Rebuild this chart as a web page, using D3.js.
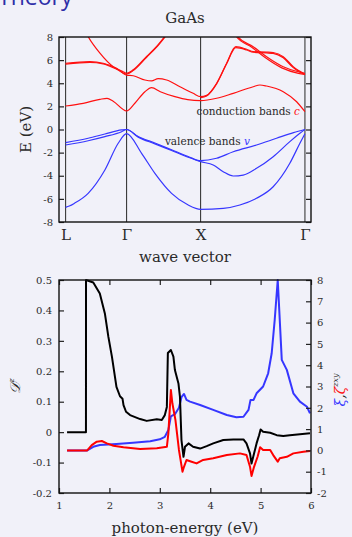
<!DOCTYPE html>
<html>
<head>
<meta charset="utf-8">
<script src="https://cdn.jsdelivr.net/npm/d3@7"></script>
<style>
html,body{margin:0;padding:0;background:#f1f1f9;}
svg{display:block;}
</style>
</head>
<body>
<svg id="chart" width="352" height="537"></svg>
<script>
// ---------- DATA: band structure (k along path, E in eV) ----------
const kTickValues = [0, 0.824, 1.824, 3.234];
const kTickLabels = ["L", "Γ", "X", "Γ"];
const energyTicks = [-8, -6, -4, -2, 0, 2, 4, 6, 8];

const valenceBand1 = [[0,-1.14],[0.305,-0.76],[0.531,-0.39],[0.757,-0.04],[0.824,0],[0.981,-0.6],[1.207,-1.17],[1.432,-1.75],[1.657,-2.33],[1.824,-2.7],[2.04,-2.49],[2.265,-1.92],[2.58,-1.34],[2.85,-0.76],[3.08,-0.27],[3.234,0]];
const valenceBand2 = [[0,-1.34],[0.305,-0.97],[0.531,-0.62],[0.757,-0.19],[0.824,0],[0.981,-0.66],[1.207,-1.24],[1.432,-1.82],[1.657,-2.4],[1.824,-2.78],[1.995,-3.07],[2.13,-3.65],[2.265,-4.02],[2.4,-3.94],[2.58,-3.36],[2.805,-2.35],[3.03,-1.05],[3.166,-0.33],[3.234,0]];
const valenceBand3 = [[0,-6.73],[0.05,-6.62],[0.12,-6.38],[0.305,-5.52],[0.531,-3.5],[0.711,-1.19],[0.824,-0.36],[1.027,-2.06],[1.207,-3.79],[1.432,-5.52],[1.657,-6.53],[1.824,-6.9],[2.13,-6.82],[2.355,-6.53],[2.58,-5.95],[2.805,-4.95],[3.03,-2.92],[3.166,-1.19],[3.234,-0.36]];

const conductionBand1 = [[0,2.03],[0.238,2.26],[0.464,2.61],[0.56,2.7],[0.643,2.45],[0.824,1.6],[0.936,2.27],[1.072,3.27],[1.162,3.62],[1.28,3.27],[1.477,2.84],[1.65,2.58],[1.824,2.5],[2.041,2.7],[2.265,3.13],[2.535,3.7],[2.626,3.85],[2.716,3.76],[2.941,3.27],[3.122,2.4],[3.234,1.54]];
const conductionBand2 = [[0,5.73],[0.328,5.87],[0.508,5.73],[0.689,5.29],[0.824,4.7],[0.914,4.65],[1.072,4.28],[1.162,4.2],[1.251,4.4],[1.365,4.28],[1.545,3.7],[1.724,3.13],[1.824,2.84],[1.905,2.95],[2.041,4.0],[2.176,5.73],[2.3,7.16],[2.446,6.94],[2.535,6.73],[2.716,6.7],[2.805,6.66],[2.941,6.3],[3.076,5.43],[3.234,4.8]];
const conductionBand3 = [[0,5.65],[0.328,5.8],[0.508,5.67],[0.689,5.22],[0.824,4.8],[0.914,5.1],[1.095,6.25],[1.23,7.12],[1.38,8.3]];
const conductionBand4 = [[0.29,8.2],[0.305,8.03],[0.464,6.6],[0.643,5.43],[0.778,5.0],[0.824,4.86],[0.914,5.16],[1.095,6.32],[1.23,7.18],[1.37,8.3]];
const conductionBand5 = [[2.31,8.2],[2.332,8.0],[2.535,7.16],[2.716,6.3],[2.941,5.43],[3.166,4.95],[3.234,4.86]];
const conductionBand6 = [[2.29,8.2],[2.312,8.0],[2.515,7.12],[2.696,6.22],[2.921,5.33],[3.146,4.86],[3.234,4.76]];
const conductionBand7 = [[1.824,2.76],[1.905,2.9],[2.041,3.95],[2.176,5.68],[2.3,7.08],[2.446,6.88],[2.535,6.68],[2.716,6.62],[2.805,6.58],[2.941,6.2],[3.076,5.35],[3.234,4.74]];

// ---------- DATA: optical response vs photon energy ----------
const photonTicks = [1, 2, 3, 4, 5, 6];
const dzTicks = [-0.2, -0.1, 0, 0.1, 0.2, 0.3, 0.4, 0.5];
const xiTicks = [-2, -1, 0, 1, 2, 3, 4, 5, 6, 7, 8];

const dzEnergy = [1.16,1.535,1.536,1.68,1.81,1.91,1.98,2.05,2.14,2.21,2.26,2.28,2.33,2.41,2.61,2.74,2.94,3.04,3.10,3.14,3.16,3.22,3.27,3.30,3.37,3.40,3.43,3.47,3.50,3.57,3.66,3.80,3.93,4.06,4.26,4.46,4.66,4.72,4.79,4.82,4.87,4.92,4.97,5.0,5.05,5.19,5.32,5.45,5.58,5.78,5.98];
const dzValues = [0,0,0.5,0.492,0.456,0.39,0.313,0.248,0.149,0.118,0.11,0.089,0.067,0.056,0.043,0.037,0.042,0.04,0.056,0.083,0.26,0.27,0.248,0.204,0.16,0.116,-0.026,-0.081,-0.048,-0.037,-0.048,-0.054,-0.046,-0.037,-0.026,-0.024,-0.024,-0.037,-0.07,-0.103,-0.07,-0.037,-0.01,0.009,0.001,-0.002,-0.01,-0.013,-0.01,-0.007,-0.004];

const zetaEnergy = [1.16,1.56,1.65,1.75,1.85,1.95,2.08,2.28,2.61,2.94,3.14,3.17,3.22,3.25,3.31,3.38,3.45,3.48,3.53,3.63,3.73,3.86,4.06,4.33,4.59,4.72,4.79,4.82,4.87,4.94,4.99,5.05,5.19,5.25,5.34,5.38,5.52,5.65,5.85,5.98];
const zetaValues = [0,0,0.25,0.41,0.44,0.33,0.22,0.15,0.07,0.1,0.17,0.8,2.84,2.2,1.43,0.02,-1.0,-0.77,-0.45,-0.53,-0.61,-0.45,-0.37,-0.22,-0.14,-0.22,-0.77,-1.2,-0.77,-0.3,0.15,0.02,0.02,-0.22,-0.53,-0.37,-0.3,-0.14,-0.06,-0.03];

const xiEnergy = [1.16,1.56,1.68,1.81,2.14,2.47,2.81,3.0,3.10,3.17,3.22,3.30,3.38,3.43,3.48,3.53,3.60,3.80,4.06,4.33,4.52,4.66,4.76,4.80,4.86,4.92,5.05,5.15,5.22,5.28,5.34,5.38,5.42,5.52,5.65,5.78,5.92,5.98];
const xiValues = [0,0,0.17,0.25,0.3,0.36,0.43,0.52,0.64,0.96,1.6,1.7,2.0,2.5,2.65,2.37,2.29,2.13,1.9,1.66,1.56,1.58,1.9,2.37,2.37,2.68,3.0,3.62,4.56,6.13,8.0,6.13,4.25,3.78,2.68,2.29,2.05,1.74];

// ---------- DRAWING ----------
const svg = d3.select("#chart");
const serif = "'DejaVu Serif', serif";
const RED = "#ff1010", BLUE = "#3636ff", TXT = "#2a2a2a";
const plain = d => String(d);   // hyphen-minus, no trailing zeros

// cut-off heading
svg.append("text").attr("x", -2).attr("y", 5).attr("fill", "#2e2ea8")
  .attr("font-family", "'Open Sans', sans-serif").attr("font-size", 23).text("Theory");

// ===== Top panel =====
const P1 = {l: 59, r: 311, t: 37, b: 222};
const xk = d3.scaleLinear().domain([-0.089, 3.316]).range([P1.l, P1.r]);
const yE = d3.scaleLinear().domain([-8, 8]).range([P1.b, P1.t]);
const g1 = svg.append("g");

g1.append("clipPath").attr("id", "clipTop").append("rect")
  .attr("x", P1.l).attr("y", P1.t).attr("width", P1.r - P1.l).attr("height", P1.b - P1.t);

// k-point vertical lines
g1.selectAll("line.kline").data(kTickValues).join("line")
  .attr("x1", d => xk(d)).attr("x2", d => xk(d)).attr("y1", P1.t).attr("y2", P1.b)
  .attr("stroke", "#3a3a3a").attr("stroke-width", 1.1);

const bandLine = d3.line().x(d => xk(d[0])).y(d => yE(d[1])).curve(d3.curveMonotoneX);
const vb = [valenceBand1, valenceBand2, valenceBand3];
const cb = [conductionBand1, conductionBand2, conductionBand3, conductionBand4, conductionBand5, conductionBand6, conductionBand7];
const bandsG = g1.append("g").attr("clip-path", "url(#clipTop)");
bandsG.selectAll("path.vb").data(vb).join("path").attr("d", bandLine)
  .attr("fill", "none").attr("stroke", BLUE).attr("stroke-width", 1.2);
bandsG.selectAll("path.cb").data(cb).join("path").attr("d", bandLine)
  .attr("fill", "none").attr("stroke", RED).attr("stroke-width", 1.2);

// axes
const axL1 = g1.append("g").attr("transform", `translate(${P1.l},0)`)
  .call(d3.axisLeft(yE).tickValues(energyTicks).tickFormat(plain).tickSize(-5).tickPadding(6));
const axR1 = g1.append("g").attr("transform", `translate(${P1.r},0)`)
  .call(d3.axisRight(yE).tickValues(energyTicks).tickSize(-5).tickFormat(""));
const axB1 = g1.append("g").attr("transform", `translate(0,${P1.b})`)
  .call(d3.axisBottom(xk).tickValues(kTickValues).tickFormat((d, i) => kTickLabels[i]).tickSize(0).tickPadding(7));
[axL1, axR1, axB1].forEach(a => {
  a.select(".domain").remove();
  a.selectAll("line").attr("stroke", "#222").attr("stroke-width", 1.2);
  a.selectAll("text").attr("font-family", serif).attr("fill", TXT);
});
axL1.selectAll("text").attr("font-size", 10);
axB1.selectAll("text").attr("font-size", 15);

g1.append("rect").attr("x", P1.l).attr("y", P1.t).attr("width", P1.r - P1.l).attr("height", P1.b - P1.t)
  .attr("fill", "none").attr("stroke", "#111").attr("stroke-width", 1.4);

g1.append("text").attr("x", 185).attr("y", 23).attr("text-anchor", "middle")
  .attr("font-family", serif).attr("font-size", 15).attr("fill", TXT).text("GaAs");
g1.append("text").attr("transform", `translate(31,${(P1.t + P1.b) / 2}) rotate(-90)`)
  .attr("text-anchor", "middle").attr("font-family", serif).attr("font-size", 15).attr("fill", TXT).text("E (eV)");
g1.append("text").attr("x", 185).attr("y", 262).attr("text-anchor", "middle")
  .attr("font-family", serif).attr("font-size", 15).attr("fill", TXT).text("wave vector");

const cText = g1.append("text").attr("x", 300).attr("y", 115).attr("text-anchor", "end")
  .attr("font-family", serif).attr("font-size", 10.5).attr("fill", TXT);
cText.append("tspan").text("conduction bands ");
cText.append("tspan").attr("fill", RED).attr("font-style", "italic").text("c");
const vText = g1.append("text").attr("x", 250).attr("y", 145).attr("text-anchor", "end")
  .attr("font-family", serif).attr("font-size", 10.5).attr("fill", TXT);
vText.append("tspan").text("valence bands ");
vText.append("tspan").attr("fill", BLUE).attr("font-style", "italic").text("v");

// ===== Bottom panel =====
const P2 = {l: 59, r: 311, t: 280, b: 493};
const xP = d3.scaleLinear().domain([1, 6]).range([P2.l, P2.r]);
const yD = d3.scaleLinear().domain([-0.2, 0.5]).range([P2.b, P2.t]);
const yX = d3.scaleLinear().domain([-2, 8]).range([P2.b, P2.t]);
const g2 = svg.append("g");

g2.append("clipPath").attr("id", "clipBot").append("rect")
  .attr("x", P2.l).attr("y", P2.t - 2).attr("width", P2.r - P2.l).attr("height", P2.b - P2.t + 2);
const linesG = g2.append("g").attr("clip-path", "url(#clipBot)");

const xiLine = d3.line().x((d, i) => xP(xiEnergy[i])).y(d => yX(d));
const zetaLine = d3.line().x((d, i) => xP(zetaEnergy[i])).y(d => yX(d));
const dzLine = d3.line().x((d, i) => xP(dzEnergy[i])).y(d => yD(d));

linesG.append("path").datum(xiValues).attr("d", xiLine)
  .attr("fill", "none").attr("stroke", BLUE).attr("stroke-width", 2).attr("stroke-linejoin", "round");
linesG.append("path").datum(zetaValues).attr("d", zetaLine)
  .attr("fill", "none").attr("stroke", "#ff0000").attr("stroke-width", 2).attr("stroke-linejoin", "round");
linesG.append("path").datum(dzValues).attr("d", dzLine)
  .attr("fill", "none").attr("stroke", "#000").attr("stroke-width", 2).attr("stroke-linejoin", "round");

const fmtD = d => d === 0 ? "0" : d3.format(".1f")(d).replace("−", "-");
const axL2 = g2.append("g").attr("transform", `translate(${P2.l},0)`)
  .call(d3.axisLeft(yD).tickValues(dzTicks).tickFormat(fmtD).tickSize(-5).tickPadding(7));
const axR2 = g2.append("g").attr("transform", `translate(${P2.r},0)`)
  .call(d3.axisRight(yX).tickValues(xiTicks).tickFormat(plain).tickSize(-5).tickPadding(6));
const axB2 = g2.append("g").attr("transform", `translate(0,${P2.b})`)
  .call(d3.axisBottom(xP).tickValues(photonTicks).tickFormat(plain).tickSize(-5).tickPadding(9));
const axT2 = g2.append("g").attr("transform", `translate(0,${P2.t})`)
  .call(d3.axisTop(xP).tickValues(photonTicks).tickSize(-5).tickFormat(""));
[axL2, axR2, axB2, axT2].forEach(a => {
  a.select(".domain").remove();
  a.selectAll("line").attr("stroke", "#222").attr("stroke-width", 1.2);
  a.selectAll("text").attr("font-family", serif).attr("fill", TXT).attr("font-size", 10);
});

g2.append("rect").attr("x", P2.l).attr("y", P2.t).attr("width", P2.r - P2.l).attr("height", P2.b - P2.t)
  .attr("fill", "none").attr("stroke", "#111").attr("stroke-width", 1.4);

g2.append("text").attr("x", 185).attr("y", 533).attr("text-anchor", "middle")
  .attr("font-family", serif).attr("font-size", 15).attr("fill", TXT).text("photon-energy (eV)");

const dLab = g2.append("text").attr("transform", "translate(20,386) rotate(-90)")
  .attr("text-anchor", "middle").attr("font-family", serif).attr("font-size", 14).attr("fill", TXT);
dLab.append("tspan").attr("font-style", "italic").text("𝒟");
dLab.append("tspan").attr("font-size", 8).attr("dy", -6).attr("font-style", "italic").text("z");

const rLab = g2.append("text").attr("transform", "translate(345,390) rotate(-90)")
  .attr("text-anchor", "middle").attr("font-family", serif).attr("font-size", 14).attr("font-style", "italic");
rLab.append("tspan").attr("fill", BLUE).text("ξ");
rLab.append("tspan").attr("fill", TXT).text(",");
rLab.append("tspan").attr("fill", RED).text("ζ");
rLab.append("tspan").attr("fill", TXT).attr("font-size", 8).attr("dy", -7).text("zxy");
</script>
</body>
</html>
